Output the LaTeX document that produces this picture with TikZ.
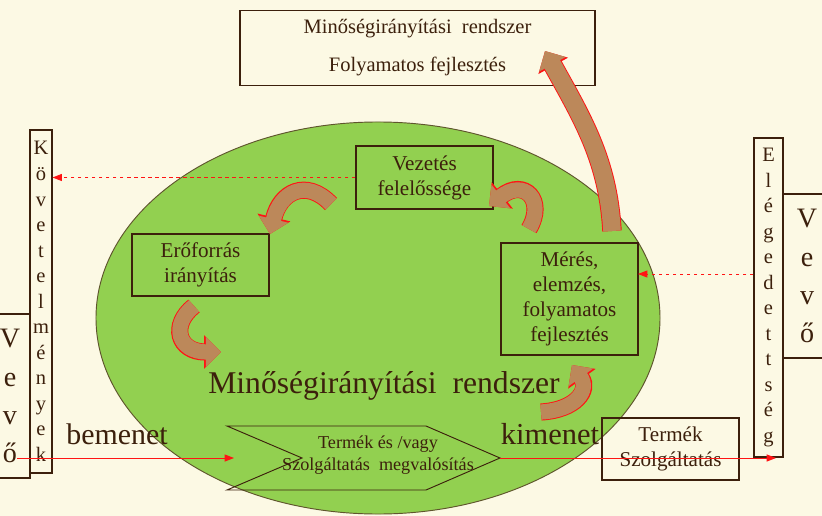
\documentclass[tikz,border=0pt]{standalone}
\usepackage{fontspec}
\setmainfont{Liberation Serif}
\usetikzlibrary{arrows.meta}
\definecolor{bgcream}{RGB}{252, 249, 228}
\definecolor{ovalgreen}{RGB}{146, 208, 80}
\definecolor{ovalline}{RGB}{95, 85, 45}
\definecolor{darktext}{RGB}{60, 32, 12}
\definecolor{arrowbrown}{RGB}{188, 136, 90}
\definecolor{linered}{RGB}{255, 20, 20}

\begin{document}
\begin{tikzpicture}[x=0.03cm, y=-0.03cm,
    box/.style={draw=darktext, line width=0.9pt, inner sep=0pt, align=center,
      text=darktext, font=\fontsize{18}{21.3}\selectfont},
    letters/.style={box, font=\fontsize{17.5}{21.8}\selectfont},
    bigletters/.style={box, font=\fontsize{24}{32.5}\selectfont},
    flow/.style={linered, line width=0.8pt, -{Triangle[length=8pt,width=6pt]}},
    dashflow/.style={flow, dashed},
    bend/.style={arrowbrown, line width=#1, -{Triangle[length=13pt,width=25pt]},
      preaction={draw=linered, line width=#1+1.6pt, -{Triangle[length=14.5pt,width=28pt]}}},
    bend/.default=13pt]
  \fill[bgcream] (0,0) rectangle (822,516);
  \useasboundingbox (0,0) rectangle (822,516);
  % nagy ovalis
  \draw[ovalline, fill=ovalgreen, line width=0.8pt] (378,318) ellipse [x radius=8.46cm, y radius=5.88cm];

  \node[box, fill=bgcream, minimum width=10.65cm, minimum height=2.25cm,
    font=\fontsize{17.5}{32.3}\selectfont] (qms) at (417.5,48)
    {Minőségirányítási\ \ rendszer\\Folyamatos\ fejlesztés};
  \node[letters, minimum width=0.66cm, minimum height=10.29cm] (kovet) at (41,301.5)
    {K\\ö\\v\\e\\t\\e\\l\\m\\é\\n\\y\\e\\k};
  \node[bigletters, minimum width=1.2cm, minimum height=4.92cm] (vevoL) at (10,396)
    {V\\e\\v\\ő};
  \node[letters, minimum width=0.87cm, minimum height=9.57cm] (eleg) at (768.5,297.5)
    {E\\l\\é\\g\\e\\d\\e\\t\\t\\s\\é\\g};
  \node[bigletters, minimum width=1.41cm, minimum height=4.92cm, anchor=west] (vevoR) at (783,276)
    {V\\e\\v\\ő};
  \node[box, minimum width=4.11cm, minimum height=1.89cm] (vez) at (424.5,177.5)
    {Vezetés\\felelőssége};
  \node[box, minimum width=4.11cm, minimum height=1.86cm] (ero) at (200.5,265)
    {Erőforrás\\irányítás};
  \node[box, minimum width=4.11cm, minimum height=3.36cm] (meres) at (569.5,299)
    {Mérés,\\elemzés,\\folyamatos\\fejlesztés};
  \node[box, minimum width=4.11cm, minimum height=1.86cm] (termek) at (670.5,449)
    {Termék\\Szolgáltatás};

  % folyamat nyil
  \draw[darktext, line width=0.8pt] (227,426) coordinate (pa) -- (426,426) -- (500,458) coordinate (ptip)
    -- (426,490) -- (227,490) -- (302,458) coordinate (pnotch) -- cycle;
  \node[text=darktext, align=center, font=\fontsize{15.5}{18.7}\selectfont] (proc) at (378,455)
    {Termék és /vagy\\Szolgáltatás\ \ megvalósítás};

  \node[text=darktext, font=\fontsize{27}{30}\selectfont] (title) at (384,386) {Minőségirányítási\ \ rendszer};
  \node[text=darktext, font=\fontsize{25.5}{28}\selectfont] (bemenet) at (117,434) {bemenet};
  \node[text=darktext, font=\fontsize{26}{28}\selectfont] (kimenet) at (550,434) {kimenet};

  % nyilak
  \coordinate (vstart) at (17,458);
  \coordinate (pin) at (234,458);
  \coordinate (gend) at (776,458);
  \coordinate (mpt) at (638,274);
  \draw[flow] (vstart) -- (pin);
  \draw[flow] (ptip) -- (gend);
  \draw[dashflow] (vez.west) -- (vez.west -| kovet.east);
  \draw[dashflow] (mpt -| eleg.west) -- (mpt);

  % ivelt nyilak
  \draw[bend] (331,204) .. controls (306,178) and (280,192) .. (270,234);
  \draw[bend] (194,306) .. controls (170,325) and (178,352) .. (221,352);
  \draw[bend] (529,229) .. controls (546,200) and (524,178) .. (489,206);
  \draw[bend] (541,412) .. controls (576,410) and (590,390) .. (572,365);
  \draw[bend=15pt] (612,231) .. controls (608,160) and (582,118) .. (545,51);
\end{tikzpicture}
\end{document}
